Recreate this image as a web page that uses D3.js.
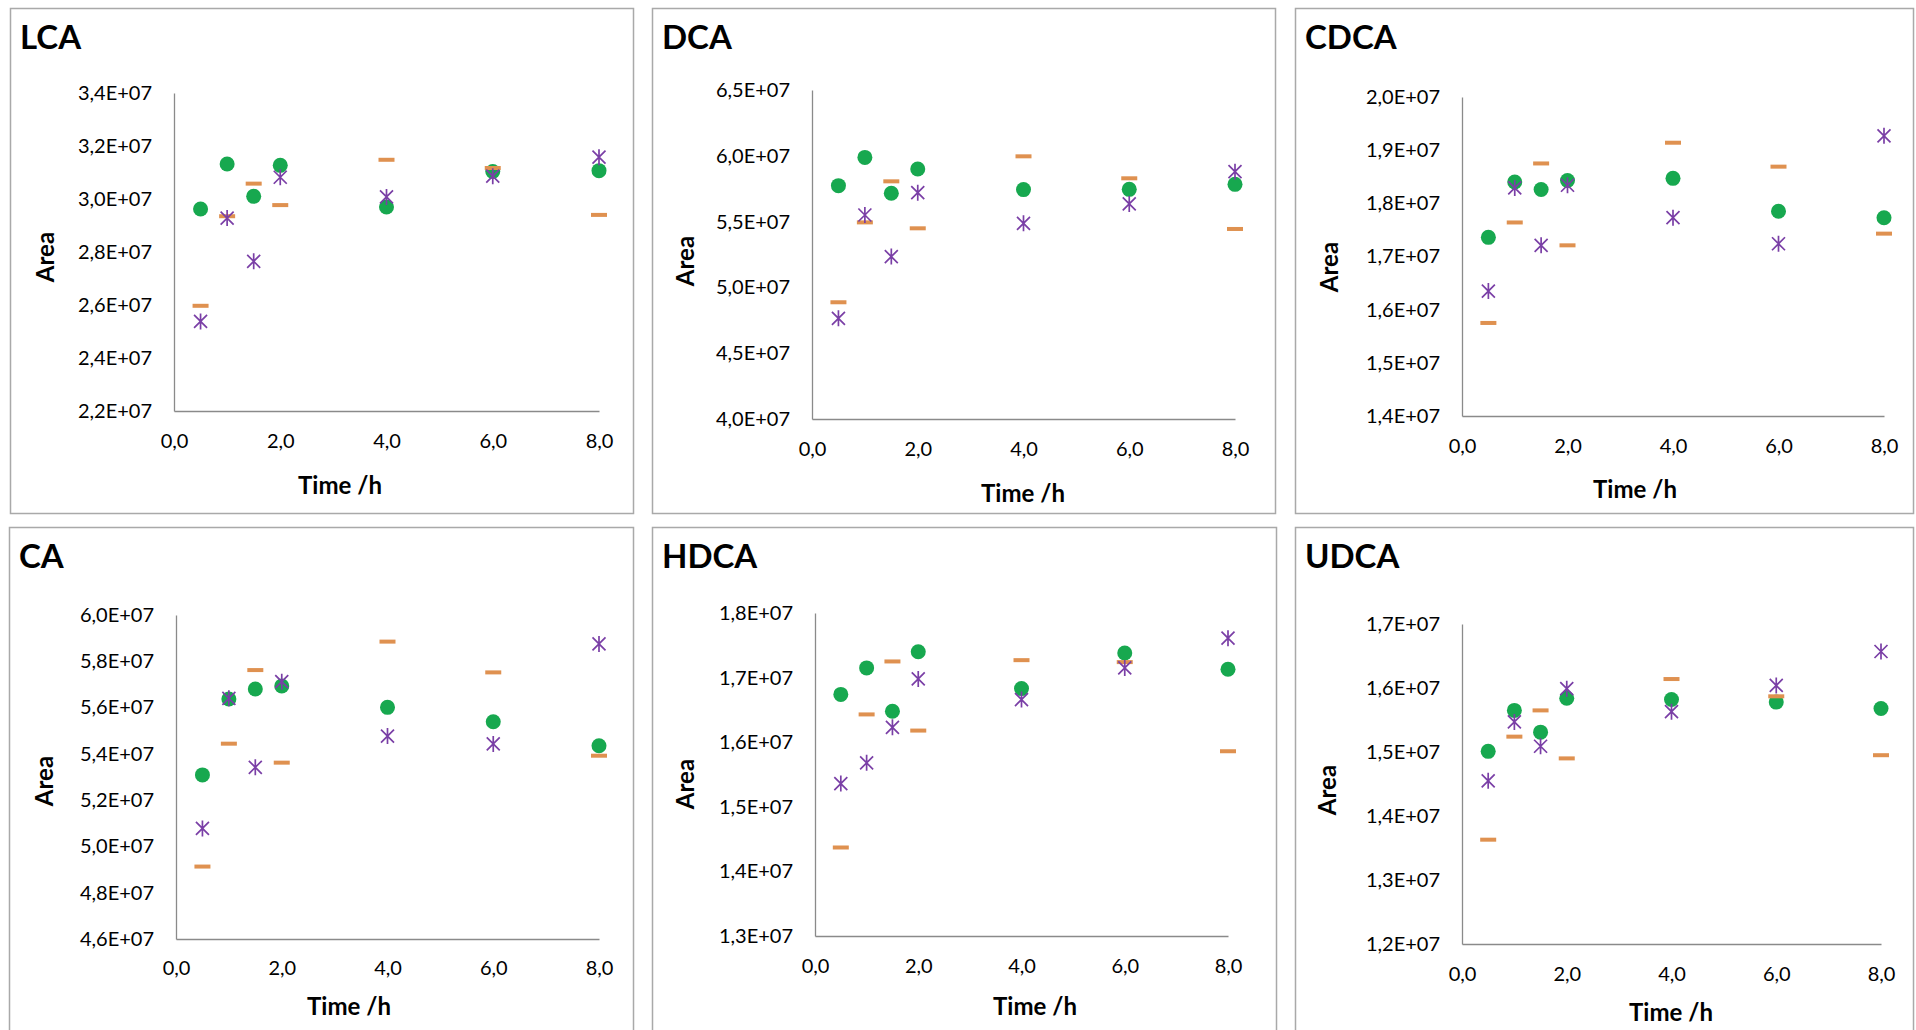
<!DOCTYPE html>
<html>
<head>
<meta charset="utf-8">
<script src="https://cdn.jsdelivr.net/npm/d3@7"></script>
<style>
  html, body { margin: 0; padding: 0; background: #ffffff; }
  svg { display: block; }
  text { font-family: Lato, "Open Sans", sans-serif; fill: #000; }
</style>
</head>
<body>
<svg id="chart" width="1916" height="1030"></svg>
<script>
// Sampling times (h)
const times = [0.5, 1, 1.5, 2, 4, 6, 8];
const xTicks = [0, 2, 4, 6, 8];

// Peak areas per bile acid, three replicate series each
const lcaCircle = [2.962e7, 3.132e7, 3.010e7, 3.127e7, 2.970e7, 3.104e7, 3.107e7];
const lcaDash   = [2.597e7, 2.935e7, 3.058e7, 2.977e7, 3.148e7, 3.117e7, 2.940e7];
const lcaStar   = [2.538e7, 2.928e7, 2.765e7, 3.082e7, 3.008e7, 3.086e7, 3.158e7];
const lcaTicks  = [2.2e7, 2.4e7, 2.6e7, 2.8e7, 3.0e7, 3.2e7, 3.4e7];

const dcaCircle = [5.773e7, 5.988e7, 5.715e7, 5.900e7, 5.743e7, 5.745e7, 5.783e7];
const dcaDash   = [4.887e7, 5.494e7, 5.806e7, 5.449e7, 5.996e7, 5.829e7, 5.444e7];
const dcaStar   = [4.765e7, 5.550e7, 5.234e7, 5.720e7, 5.487e7, 5.634e7, 5.879e7];
const dcaTicks  = [4.0e7, 4.5e7, 5.0e7, 5.5e7, 6.0e7, 6.5e7];

const cdcaCircle = [1.736e7, 1.840e7, 1.826e7, 1.843e7, 1.847e7, 1.785e7, 1.773e7];
const cdcaDash   = [1.575e7, 1.764e7, 1.875e7, 1.721e7, 1.914e7, 1.869e7, 1.743e7];
const cdcaStar   = [1.635e7, 1.829e7, 1.721e7, 1.834e7, 1.773e7, 1.724e7, 1.927e7];
const cdcaTicks  = [1.4e7, 1.5e7, 1.6e7, 1.7e7, 1.8e7, 1.9e7, 2.0e7];

const caCircle = [5.309e7, 5.637e7, 5.680e7, 5.693e7, 5.601e7, 5.539e7, 5.435e7];
const caDash   = [4.913e7, 5.444e7, 5.762e7, 5.362e7, 5.885e7, 5.752e7, 5.392e7];
const caStar   = [5.078e7, 5.640e7, 5.342e7, 5.712e7, 5.477e7, 5.443e7, 5.875e7];
const caTicks  = [4.6e7, 4.8e7, 5.0e7, 5.2e7, 5.4e7, 5.6e7, 5.8e7, 6.0e7];

const hdcaCircle = [1.674e7, 1.715e7, 1.648e7, 1.740e7, 1.683e7, 1.738e7, 1.713e7];
const hdcaDash   = [1.437e7, 1.643e7, 1.725e7, 1.618e7, 1.727e7, 1.724e7, 1.586e7];
const hdcaStar   = [1.536e7, 1.568e7, 1.623e7, 1.698e7, 1.666e7, 1.715e7, 1.761e7];
const hdcaTicks  = [1.3e7, 1.4e7, 1.5e7, 1.6e7, 1.7e7, 1.8e7];

const udcaCircle = [1.501e7, 1.565e7, 1.531e7, 1.584e7, 1.582e7, 1.578e7, 1.568e7];
const udcaDash   = [1.363e7, 1.524e7, 1.565e7, 1.490e7, 1.614e7, 1.587e7, 1.495e7];
const udcaStar   = [1.455e7, 1.547e7, 1.509e7, 1.599e7, 1.563e7, 1.604e7, 1.657e7];
const udcaTicks  = [1.2e7, 1.3e7, 1.4e7, 1.5e7, 1.6e7, 1.7e7];

const panelData = [
  { name: "LCA",  circle: lcaCircle,  dash: lcaDash,  star: lcaStar,  ticks: lcaTicks },
  { name: "DCA",  circle: dcaCircle,  dash: dcaDash,  star: dcaStar,  ticks: dcaTicks },
  { name: "CDCA", circle: cdcaCircle, dash: cdcaDash, star: cdcaStar, ticks: cdcaTicks },
  { name: "CA",   circle: caCircle,   dash: caDash,   star: caStar,   ticks: caTicks },
  { name: "HDCA", circle: hdcaCircle, dash: hdcaDash, star: hdcaStar, ticks: hdcaTicks },
  { name: "UDCA", circle: udcaCircle, dash: udcaDash, star: udcaStar, ticks: udcaTicks }
];

// Frame geometry of each panel: box, plot area, title and axis-title anchors
const layout = [
  { box: [10, 8, 633, 513],    ax: 174,  top: 93,  bot: 411, xEnd: 599,  titleY: 49,  xLabY: 448, timeX: 340,  timeY: 494,  areaX: 46,   areaY: 257 },
  { box: [652, 8, 1275, 513],  ax: 812,  top: 90,  bot: 419, xEnd: 1235, titleY: 49,  xLabY: 456, timeX: 1023, timeY: 502,  areaX: 686,  areaY: 261 },
  { box: [1295, 8, 1913, 513], ax: 1462, top: 97,  bot: 416, xEnd: 1884, titleY: 49,  xLabY: 453, timeX: 1635, timeY: 498,  areaX: 1330, areaY: 267 },
  { box: [9, 527, 633, 1040],  ax: 176,  top: 615, bot: 939, xEnd: 599,  titleY: 568, xLabY: 975, timeX: 349,  timeY: 1015, areaX: 45,   areaY: 781 },
  { box: [652, 527, 1276, 1040], ax: 815, top: 613, bot: 936, xEnd: 1228, titleY: 568, xLabY: 973, timeX: 1035, timeY: 1015, areaX: 686, areaY: 784 },
  { box: [1295, 527, 1913, 1040], ax: 1462, top: 624, bot: 944, xEnd: 1881, titleY: 568, xLabY: 981, timeX: 1671, timeY: 1021, areaX: 1328, areaY: 790 }
];

const COLORS = { circle: "#17a84f", dash: "#df9150", star: "#7a3fa6", axis: "#8a8a8a", frame: "#a9a9a9" };

const svg = d3.select("#chart");
const fmtY = v => (v / 1e7).toFixed(1).replace(".", ",") + "E+07";
const fmtX = v => v.toFixed(1).replace(".", ",");
const starPath = "M-6.5,-6.5L6.5,6.5M-6.5,6.5L6.5,-6.5M0,-8L0,8";

panelData.forEach((p, i) => {
  const L = layout[i];
  const g = svg.append("g");

  // panel frame
  g.append("rect")
    .attr("x", L.box[0] + 0.5).attr("y", L.box[1] + 0.5)
    .attr("width", L.box[2] - L.box[0]).attr("height", L.box[3] - L.box[1])
    .attr("fill", "#fff").attr("stroke", COLORS.frame).attr("stroke-width", 1.5);

  g.append("text")
    .attr("x", L.box[0] + 10).attr("y", L.titleY)
    .attr("font-size", 33).attr("font-weight", 700)
    .text(p.name);

  const x = d3.scaleLinear().domain([0, 8]).range([L.ax, L.xEnd]);
  const y = d3.scaleLinear().domain(d3.extent(p.ticks)).range([L.bot, L.top]);

  // y axis
  const yAxis = g.append("g")
    .attr("transform", `translate(${L.ax},0)`)
    .call(d3.axisLeft(y).tickValues(p.ticks).tickFormat(fmtY).tickSize(0).tickPadding(22));
  yAxis.select(".domain").attr("stroke", COLORS.axis).attr("stroke-width", 1.3);
  yAxis.selectAll("text").attr("font-size", 20).attr("font-family", "Lato, sans-serif").attr("fill", "#000");

  // x axis
  const xAxis = g.append("g")
    .attr("transform", `translate(0,${L.bot})`)
    .call(d3.axisBottom(x).tickValues(xTicks).tickFormat(fmtX).tickSize(0).tickPadding(0));
  xAxis.select(".domain").attr("stroke", COLORS.axis).attr("stroke-width", 1.3);
  xAxis.selectAll("text")
    .attr("font-size", 20).attr("font-family", "Lato, sans-serif").attr("fill", "#000")
    .attr("dy", null).attr("y", L.xLabY - L.bot);

  // axis titles
  g.append("text")
    .attr("x", L.timeX).attr("y", L.timeY)
    .attr("text-anchor", "middle").attr("font-size", 24).attr("font-weight", 700)
    .text("Time /h");
  g.append("text")
    .attr("transform", `translate(${L.areaX + 8},${L.areaY}) rotate(-90)`)
    .attr("text-anchor", "middle").attr("font-size", 24).attr("font-weight", 700)
    .text("Area");

  // markers: circles, dashes, stars
  const pts = key => times.map((t, k) => ({ t, v: p[key][k] }));

  g.append("g").selectAll("circle").data(pts("circle")).join("circle")
    .attr("cx", d => x(d.t)).attr("cy", d => y(d.v)).attr("r", 7.5)
    .attr("fill", COLORS.circle);

  g.append("g").selectAll("rect").data(pts("dash")).join("rect")
    .attr("x", d => x(d.t) - 8).attr("y", d => y(d.v) - 2)
    .attr("width", 16).attr("height", 4)
    .attr("fill", COLORS.dash);

  g.append("g").selectAll("path").data(pts("star")).join("path")
    .attr("transform", d => `translate(${x(d.t)},${y(d.v)})`)
    .attr("d", starPath)
    .attr("fill", "none").attr("stroke", COLORS.star).attr("stroke-width", 1.7);
});
</script>
</body>
</html>
